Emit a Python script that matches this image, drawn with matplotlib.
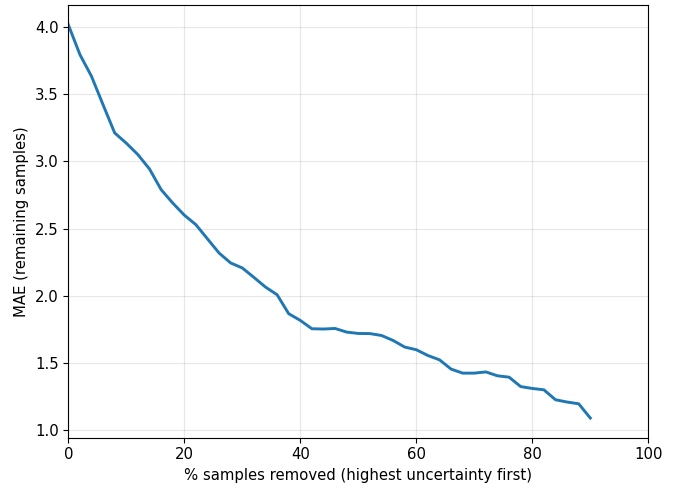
import matplotlib
matplotlib.use('Agg')
import matplotlib.pyplot as plt

plt.rcParams['font.size'] = 10.7

# % samples removed and MAE of the samples left
pct_removed = list(range(0, 92, 2))
mae_remaining = [4.016, 3.794, 3.632, 3.42, 3.211, 3.135, 3.05, 2.943, 2.79, 2.69,
                 2.6, 2.529, 2.423, 2.318, 2.244, 2.207, 2.137, 2.065, 2.008, 1.867,
                 1.817, 1.755, 1.753, 1.757, 1.73, 1.72, 1.719, 1.705, 1.668, 1.619,
                 1.599, 1.556, 1.524, 1.455, 1.425, 1.425, 1.434, 1.405, 1.395, 1.325,
                 1.311, 1.301, 1.227, 1.21, 1.197, 1.091]

fig = plt.figure(figsize=(6.85, 4.87), dpi=100)
ax = fig.add_axes([0.0997, 0.1012, 0.8467, 0.8885])
ax.plot(pct_removed, mae_remaining, color="tab:blue", linewidth=2.1)
ax.set_xlim(0, 100)
ax.set_xlabel("% samples removed (highest uncertainty first)")
ax.set_ylabel("MAE (remaining samples)")
ax.grid(True, alpha=0.3)

fig.savefig("out.png", dpi=100)
